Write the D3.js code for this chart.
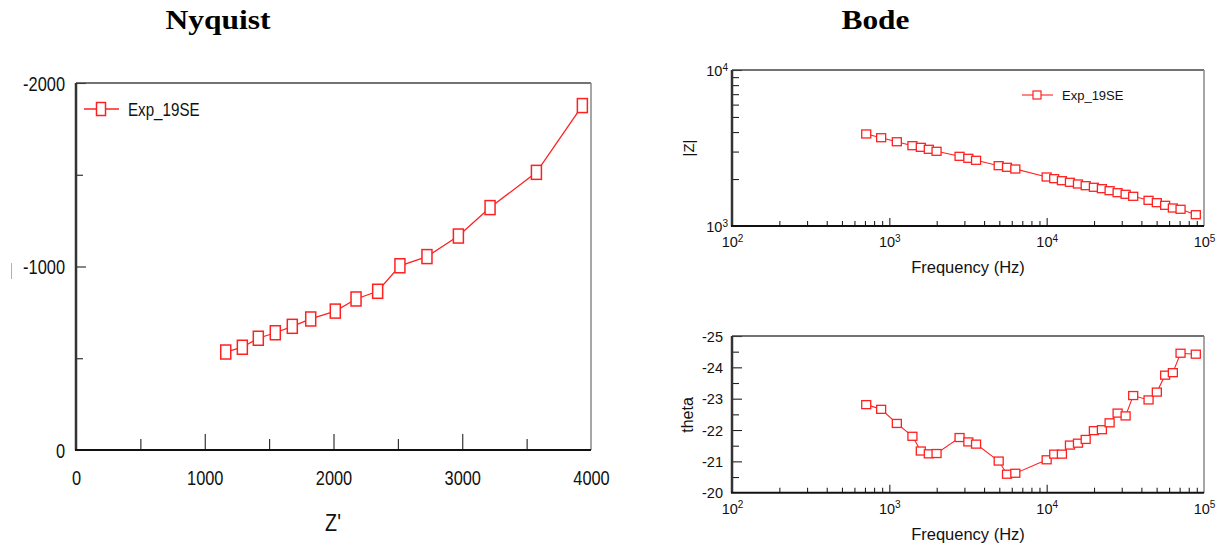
<!DOCTYPE html>
<html><head><meta charset="utf-8">
<script src="https://cdn.jsdelivr.net/npm/d3@7/dist/d3.min.js"></script>
<style>body{margin:0;background:#fff}</style>
</head><body><svg id="c" width="1226" height="547"></svg>
<script>
// ---------- DATA ----------
const seriesName = "Exp_19SE";
// Nyquist
const nyqZre = [1163,1292,1416,1548,1680,1823,2014,2175,2343,2516,2726,2970,3216,3576,3933];
const nyqZim = [-534,-560,-609,-639,-674,-714,-757,-823,-865,-1004,-1054,-1166,-1321,-1513,-1877];
const nyqXTicks = [0,1000,2000,3000,4000];
const nyqXMinor = [500,1500,2500,3500];
const nyqYTicks = [0,-1000,-2000];
const nyqYMinor = [-500,-1500];
// Bode
const freq = [713,887,1116,1402,1585,1782,1996,2795,3179,3558,4955,5598,6320,10000,11170,12500,14060,15810,17700,19960,22440,25120,28240,31750,35480,44430,50140,56620,63390,70950,88720];
const zmod = [3890,3681,3468,3272,3194,3102,3012,2797,2716,2637,2436,2378,2319,2061,2011,1952,1906,1859,1813,1771,1735,1684,1635,1597,1550,1461,1411,1357,1304,1280,1181];
const theta = [-22.81,-22.66,-22.21,-21.80,-21.33,-21.24,-21.25,-21.76,-21.62,-21.55,-21.01,-20.59,-20.62,-21.05,-21.23,-21.23,-21.52,-21.58,-21.70,-21.98,-22.01,-22.23,-22.54,-22.45,-23.10,-22.96,-23.21,-23.75,-23.83,-24.45,-24.42];
const freqDecades = [1e2,1e3,1e4,1e5];
const zmodDecades = [1e3,1e4];
const thetaTicks = [-20,-21,-22,-23,-24,-25];
const thetaMinor = [-20.5,-21.5,-22.5,-23.5,-24.5];

// ---------- SETUP ----------
const svg = d3.select("#c");
svg.append("rect").attr("width",1226).attr("height",547).attr("fill","#fff");
const RED = "#ff2020";
const NARROW = "'Liberation Sans Narrow','Arial Narrow','Liberation Sans',Arial,sans-serif";
const SQ = 0.82; // horizontal squeeze to emulate a narrow face
const SANS = "'Liberation Sans',Arial,Helvetica,sans-serif";
const SERIF = "'Liberation Serif','Times New Roman',serif";

function title(txt, x, w){
  svg.append("text").attr("x",x).attr("y",29).attr("text-anchor","middle")
    .attr("font-family",SERIF).attr("font-weight","bold").attr("font-size",28)
    .attr("textLength",w).attr("lengthAdjust","spacingAndGlyphs").attr("fill","#000").text(txt);
}
title("Nyquist",218,105);
title("Bode",875.5,68);

function frame(x0,x1,y0,y1){
  const g = svg.append("g");
  g.append("line").attr("x1",x0).attr("x2",x1).attr("y1",y0).attr("y2",y0).attr("stroke","#444").attr("stroke-width",1.5);
  g.append("line").attr("x1",x1).attr("x2",x1).attr("y1",y0).attr("y2",y1).attr("stroke","#888").attr("stroke-width",1.5);
  g.append("line").attr("x1",x0).attr("x2",x0).attr("y1",y0).attr("y2",y1).attr("stroke","#333").attr("stroke-width",2.5);
  g.append("line").attr("x1",x0-1).attr("x2",x1).attr("y1",y1).attr("y2",y1).attr("stroke","#111").attr("stroke-width",2);
}
function styleAxis(g){
  g.select(".domain").remove();
  g.selectAll(".tick line").attr("stroke","#222").attr("stroke-width",1.1);
}

// ---------- NYQUIST ----------
const nx = d3.scaleLinear().domain([0,4000]).range([76,591]);
const ny = d3.scaleLinear().domain([0,-2000]).range([450,83]);

svg.append("g").attr("transform","translate(0,450)")
  .call(d3.axisBottom(nx).tickValues(nyqXMinor).tickSize(-11).tickFormat("")).call(styleAxis);
svg.append("g").attr("transform","translate(76,0)")
  .call(d3.axisLeft(ny).tickValues(nyqYMinor).tickSize(-7).tickFormat("")).call(styleAxis);
const nxAxis = svg.append("g").attr("transform","translate(0,450)")
  .call(d3.axisBottom(nx).tickValues(nyqXTicks).tickSize(-16).tickFormat(d=>String(d))).call(styleAxis);
nxAxis.selectAll("text").attr("y",35).attr("dy",0).attr("transform",`scale(${SQ},1)`)
  .attr("font-family",NARROW).attr("font-size",20).attr("fill","#111");
nxAxis.selectAll(".tick").filter(d=>d===0||d===4000).select("line").remove();
const nyAxis = svg.append("g").attr("transform","translate(76,0)")
  .call(d3.axisLeft(ny).tickValues(nyqYTicks).tickSize(-10).tickPadding(11).tickFormat(d=>String(d))).call(styleAxis);
nyAxis.selectAll("text").attr("x",-11/SQ).attr("dy","0.36em").attr("transform",`scale(${SQ},1)`)
  .attr("font-family",NARROW).attr("font-size",20).attr("fill","#111");
nyAxis.selectAll(".tick").filter(d=>d===0).select("line").remove();

frame(76,591,83,450);

svg.append("text").attr("transform",`translate(333,531) scale(${SQ},1)`).attr("text-anchor","middle")
  .attr("font-family",NARROW).attr("font-size",24).attr("fill","#111").text("Z'");
svg.append("line").attr("x1",11.5).attr("x2",11.5).attr("y1",263).attr("y2",279).attr("stroke","#b0b0b0").attr("stroke-width",1);

const nyqPts = nyqZre.map((v,i)=>[v,nyqZim[i]]);
svg.append("path").datum(nyqPts).attr("fill","none").attr("stroke",RED).attr("stroke-width",1.3)
  .attr("d",d3.line().x(d=>nx(d[0])).y(d=>ny(d[1])));
svg.append("g").selectAll("rect").data(nyqPts).join("rect")
  .attr("x",d=>nx(d[0])-5).attr("y",d=>ny(d[1])-7).attr("width",10).attr("height",14)
  .attr("fill","#fff").attr("stroke",RED).attr("stroke-width",1.5);
svg.append("line").attr("x1",84).attr("x2",119).attr("y1",109).attr("y2",109).attr("stroke",RED).attr("stroke-width",1.3);
svg.append("rect").attr("x",96.5).attr("y",102.5).attr("width",9).attr("height",13).attr("fill","#fff").attr("stroke",RED).attr("stroke-width",1.5);
svg.append("text").attr("transform",`translate(128,116) scale(${SQ},1)`).attr("font-family",NARROW).attr("font-size",18.5).attr("fill","#111").text(seriesName);

// ---------- BODE ----------
const bx = d3.scaleLog().domain([1e2,1e5]).range([732,1204]);
const by1 = d3.scaleLog().domain([1e3,1e4]).range([226,70]);
const by2 = d3.scaleLinear().domain([-20,-25]).range([492.7,336]);
const minorFreq = [];
freqDecades.slice(0,-1).forEach(d=>{ for(let k=2;k<=9;k++) minorFreq.push(d*k); });
const minorZ = [];
zmodDecades.slice(0,-1).forEach(d=>{ for(let k=2;k<=9;k++) minorZ.push(d*k); });

function powLabel(sel){
  sel.each(function(d){
    const t = d3.select(this); t.text(null);
    const e = Math.round(Math.log10(d));
    t.append("tspan").text("10");
    t.append("tspan").attr("font-size",10).attr("dy","-0.55em").text(e);
  });
}

function bodeX(yBase){
  svg.append("g").attr("transform",`translate(0,${yBase})`)
    .call(d3.axisBottom(bx).tickValues(minorFreq).tickSize(-5).tickFormat("")).call(styleAxis);
  const ax = svg.append("g").attr("transform",`translate(0,${yBase})`)
    .call(d3.axisBottom(bx).tickValues(freqDecades).tickSize(-8).tickFormat(d=>d)).call(styleAxis);
  ax.selectAll("text").attr("y",21).attr("dy",0).attr("font-family",SANS).attr("font-size",14.5).attr("fill","#111").call(powLabel);
  ax.selectAll(".tick").filter(d=>d===1e2||d===1e5).select("line").remove();
  svg.append("text").attr("x",968).attr("y",yBase+47).attr("text-anchor","middle")
    .attr("font-family",SANS).attr("font-size",16.5).attr("fill","#111").text("Frequency (Hz)");
}

svg.append("g").attr("transform","translate(732,0)")
  .call(d3.axisLeft(by1).tickValues(minorZ).tickSize(-7).tickFormat("")).call(styleAxis);
const zAx = svg.append("g").attr("transform","translate(732,0)")
  .call(d3.axisLeft(by1).tickValues(zmodDecades).tickSize(-10).tickPadding(4).tickFormat(d=>d)).call(styleAxis);
zAx.selectAll("text").attr("dy","0.4em").attr("font-family",SANS).attr("font-size",14.5).attr("fill","#111").call(powLabel);
zAx.selectAll(".tick").filter(d=>d===1e3).select("line").remove();
bodeX(226);
frame(732,1204,70,226);
svg.append("text").attr("transform","translate(694,148) rotate(-90)").attr("text-anchor","middle")
  .attr("font-family",SANS).attr("font-size",15).attr("fill","#111").text("|Z|");

const zPts = freq.map((f,i)=>[f,zmod[i]]);
svg.append("path").datum(zPts).attr("fill","none").attr("stroke",RED).attr("stroke-width",1.1)
  .attr("d",d3.line().x(d=>bx(d[0])).y(d=>by1(d[1])));
svg.append("g").selectAll("rect").data(zPts).join("rect")
  .attr("x",d=>bx(d[0])-4.5).attr("y",d=>by1(d[1])-4).attr("width",9).attr("height",8)
  .attr("fill","#fff").attr("stroke",RED).attr("stroke-width",1.3);
svg.append("line").attr("x1",1022).attr("x2",1053).attr("y1",95).attr("y2",95).attr("stroke",RED).attr("stroke-width",1.1);
svg.append("rect").attr("x",1033).attr("y",91).attr("width",8).attr("height",8).attr("fill","#fff").attr("stroke",RED).attr("stroke-width",1.2);
svg.append("text").attr("x",1062).attr("y",99.5).attr("font-family",SANS).attr("font-size",13).attr("fill","#111").text(seriesName);

svg.append("g").attr("transform","translate(732,0)")
  .call(d3.axisLeft(by2).tickValues(thetaMinor).tickSize(-7).tickFormat("")).call(styleAxis);
const tAx = svg.append("g").attr("transform","translate(732,0)")
  .call(d3.axisLeft(by2).tickValues(thetaTicks).tickSize(-10).tickPadding(9).tickFormat(d=>String(d))).call(styleAxis);
tAx.selectAll("text").attr("dy","0.36em").attr("font-family",SANS).attr("font-size",14.5).attr("fill","#111");
tAx.selectAll(".tick").filter(d=>d===-20).select("line").remove();
bodeX(492.7);
frame(732,1204,336,492.7);
svg.append("text").attr("transform","translate(693,415) rotate(-90)").attr("text-anchor","middle")
  .attr("font-family",SANS).attr("font-size",16).attr("fill","#111").text("theta");

const tPts = freq.map((f,i)=>[f,theta[i]]);
svg.append("path").datum(tPts).attr("fill","none").attr("stroke",RED).attr("stroke-width",1.1)
  .attr("d",d3.line().x(d=>bx(d[0])).y(d=>by2(d[1])));
svg.append("g").selectAll("rect").data(tPts).join("rect")
  .attr("x",d=>bx(d[0])-4.5).attr("y",d=>by2(d[1])-4).attr("width",9).attr("height",8)
  .attr("fill","#fff").attr("stroke",RED).attr("stroke-width",1.3);
</script></body></html>
